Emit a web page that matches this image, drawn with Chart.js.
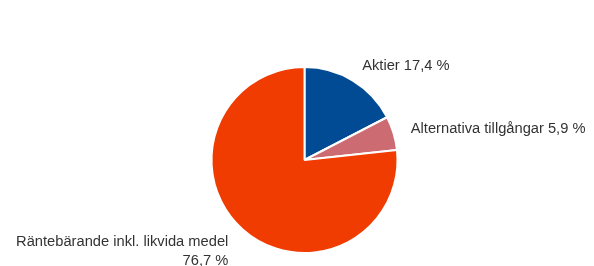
<!DOCTYPE html>
<html>
<head>
<meta charset="utf-8">
<script src="https://cdn.jsdelivr.net/npm/chart.js@4"></script>
<style>
  html, body { margin: 0; padding: 0; background: #fff; }
  #wrap { width: 594px; height: 266px; }
</style>
</head>
<body>
<div id="wrap"><canvas id="pie-chart" width="594" height="266"></canvas></div>
<script>
// Allocation data
const categories = ['Aktier', 'Alternativa tillgångar', 'Räntebärande inkl. likvida medel'];
const shares = [17.4, 5.9, 76.7];
const sliceColors = ['#004b93', '#cd6b73', '#f03c00'];
// Label lines per slice (the long one wraps)
const labelLines = [
  ['Aktier 17,4 %'],
  ['Alternativa tillgångar 5,9 %'],
  ['Räntebärande inkl. likvida medel', '76,7 %']
];

/**
 * Draws outside labels next to each slice
 */
const outsideLabels = {
  id: 'outsideLabels',
  afterDraw(chart) {
    const ctx = chart.ctx;
    const meta = chart.getDatasetMeta(0);
    ctx.save();
    ctx.font = '14.7px "Liberation Sans", Arial, sans-serif';
    ctx.fillStyle = '#333333';
    ctx.textBaseline = 'middle';
    meta.data.forEach((arc, i) => {
      const mid = (arc.startAngle + arc.endAngle) / 2;
      const r = arc.outerRadius + 18;
      const right = Math.cos(mid) >= 0;
      const x = arc.x + Math.cos(mid) * r + (right ? 0 : -2);
      const y = arc.y + Math.sin(mid) * r + 1;
      ctx.textAlign = right ? 'left' : 'right';
      const lines = labelLines[i];
      const lh = 19;
      const y0 = y - (lines.length > 1 ? 2 : 0);
      lines.forEach((t, k) => ctx.fillText(t, x, y0 + k * lh));
    });
    ctx.restore();
  }
};

const ctx = document.getElementById('pie-chart').getContext('2d');
new Chart(ctx, {
  type: 'pie',
  data: {
    labels: categories,
    datasets: [{
      data: shares,
      backgroundColor: sliceColors,
      borderColor: '#ffffff',
      borderWidth: 2
    }]
  },
  options: {
    responsive: false,
    animation: false,
    layout: { padding: { top: 66, bottom: 12, left: 15, right: 0 } },
    plugins: {
      legend: { display: false },
      tooltip: { enabled: false }
    }
  },
  plugins: [outsideLabels]
});
</script>
</body>
</html>
